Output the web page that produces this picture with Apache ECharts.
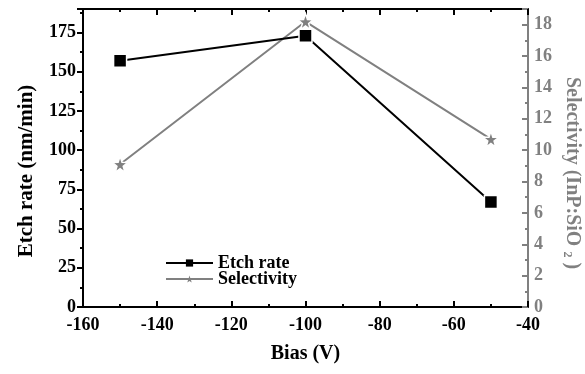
<!DOCTYPE html>
<html>
<head>
<meta charset="utf-8">
<script src="https://cdn.jsdelivr.net/npm/echarts@6/dist/echarts.min.js"></script>
<style>
  html, body { margin: 0; padding: 0; background: #fff; }
  #chart { width: 585px; height: 374px; }
</style>
</head>
<body>
<div id="chart"></div>
<script>
// Bias voltage sweep (V)
const bias = [-150, -100, -50];
// Etch rate (nm/min) at each bias
const etchRate = [157, 173, 67];
// Selectivity InP:SiO2 at each bias
const selectivity = [9.1, 18.2, 10.7];

const FONT = '"Liberation Serif", "Times New Roman", serif';
const GREY = '#808080';
const STAR = 'path://M50,0 L61.8,35.1 L98.5,35.4 L69,57.4 L79.4,92.7 L50,71.3 L20.6,92.7 L31,57.4 L1.5,35.4 L38.2,35.1 Z';

const chart = echarts.init(document.getElementById('chart'));

function frameX(pos, labels) {
  return {
    type: 'value', show: true, gridIndex: 0, position: pos,
    min: -160, max: -40, interval: 20,
    axisLine: { show: true, onZero: false, lineStyle: { color: '#000', width: 2 } },
    axisTick: { show: true, inside: true, length: 6, lineStyle: { width: 2, color: '#000' } },
    minorTick: { show: true, splitNumber: 2, length: 3, lineStyle: { width: 2, color: '#000' } },
    axisLabel: labels
      ? { show: true, fontFamily: FONT, fontWeight: 'bold', fontSize: 18, color: '#000', margin: 9 }
      : { show: false },
    splitLine: { show: false }
  };
}

const legendText = { fontFamily: FONT, fontWeight: 'bold', fontSize: 18, color: '#000' };
const legendBase = { left: 160, itemWidth: 47, itemHeight: 9, itemStyle: { borderWidth: 0 }, textStyle: legendText };

chart.setOption({
  animation: false,
  grid: { left: 83, right: 57, top: 9, bottom: 67, outerBoundsMode: 'none', containLabel: false },
  legend: [
    Object.assign({ top: 249, data: ['Etch rate'] }, legendBase),
    Object.assign({ top: 265, data: ['Selectivity'] }, legendBase)
  ],
  // right-hand axis title with the SiO2 subscript, read top to bottom
  graphic: [{
    type: 'text', x: 572, y: 173, rotation: -Math.PI / 2, silent: true,
    style: {
      text: 'Selectivity (InP:SiO {sub|2} )',
      fontFamily: FONT, fontWeight: 'bold', fontSize: 20, fill: GREY,
      align: 'center', verticalAlign: 'middle', lineHeight: 22,
      rich: { sub: { fontFamily: FONT, fontWeight: 'bold', fontSize: 12, fill: GREY, verticalAlign: 'bottom', lineHeight: 12 } }
    }
  }],
  xAxis: [
    Object.assign(frameX('bottom', true), {
      name: 'Bias (V)', nameLocation: 'middle', nameGap: 37, nameMoveOverlap: false,
      nameTextStyle: { fontFamily: FONT, fontWeight: 'bold', fontSize: 20, color: '#000' }
    }),
    frameX('top', false)
  ],
  yAxis: [
    {
      type: 'value', position: 'left', min: 0, max: 190, interval: 25,
      name: 'Etch rate (nm/min)', nameLocation: 'middle', nameGap: 46, nameRotate: 90, nameMoveOverlap: false,
      nameTextStyle: { fontFamily: FONT, fontWeight: 'bold', fontSize: 21, color: '#000', padding: [0, 26, 0, 0] },
      axisLine: { show: true, onZero: false, lineStyle: { color: '#000', width: 2 } },
      axisTick: { inside: false, length: 6, lineStyle: { width: 2, color: '#000' } },
      minorTick: { show: true, splitNumber: 2, length: 3, lineStyle: { width: 2, color: '#000' } },
      axisLabel: { fontFamily: FONT, fontWeight: 'bold', fontSize: 18, color: '#000', margin: 7, showMaxLabel: false },
      splitLine: { show: false }
    },
    {
      type: 'value', position: 'right', min: 0, max: 19, interval: 2,
      axisLine: { show: true, onZero: false, lineStyle: { color: GREY, width: 2 } },
      axisTick: { inside: true, length: 6, lineStyle: { width: 2, color: GREY } },
      minorTick: { show: true, splitNumber: 2, length: 3, lineStyle: { width: 2, color: GREY } },
      axisLabel: { fontFamily: FONT, fontWeight: 'bold', fontSize: 18, color: GREY, margin: 6, showMaxLabel: false },
      splitLine: { show: false }
    }
  ],
  series: [
    {
      name: 'Etch rate', type: 'line', xAxisIndex: 0, yAxisIndex: 0,
      data: bias.map((b, i) => [b, etchRate[i]]),
      symbol: 'rect', symbolSize: 13,
      lineStyle: { color: '#000', width: 2 },
      itemStyle: { color: '#000', borderColor: '#fff', borderWidth: 1.5 },
      z: 3
    },
    {
      name: 'Selectivity', type: 'line', xAxisIndex: 0, yAxisIndex: 1,
      data: bias.map((b, i) => [b, selectivity[i]]),
      symbol: STAR, symbolSize: 16,
      lineStyle: { color: GREY, width: 2 },
      itemStyle: { color: GREY, borderColor: '#fff', borderWidth: 1.5 },
      z: 2
    },
    {
      // keeps the top frame axis bound to the grid
      name: 'frame', type: 'line', xAxisIndex: 1, yAxisIndex: 0, data: [], silent: true
    }
  ]
});
</script>
</body>
</html>
